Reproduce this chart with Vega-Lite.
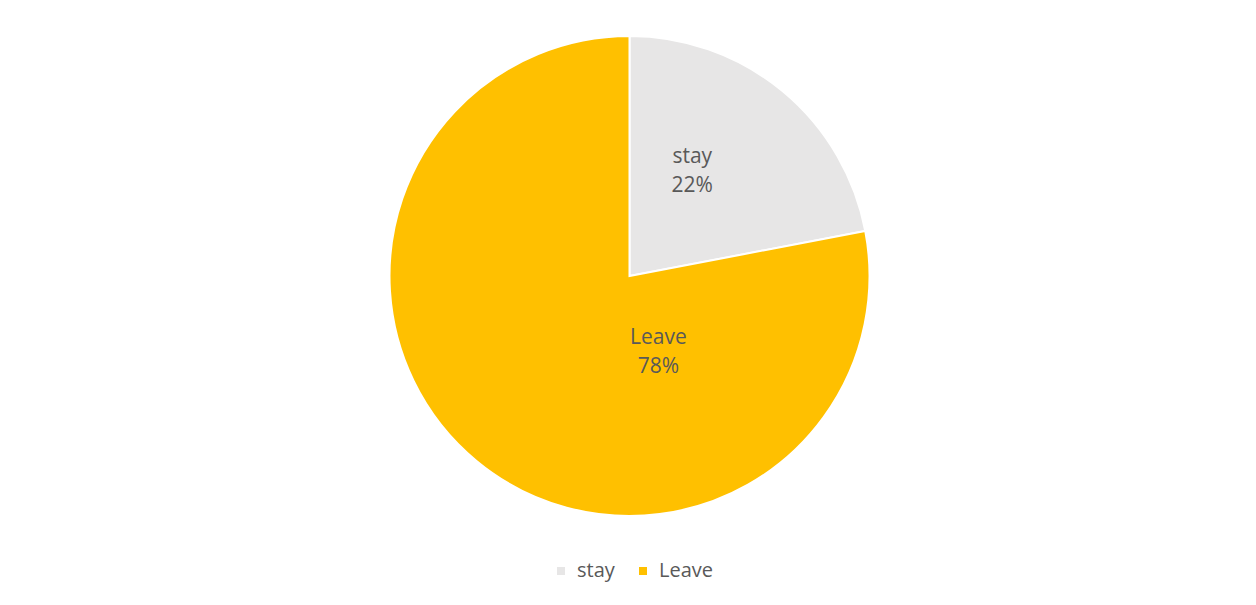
{
  "$schema": "https://vega.github.io/schema/vega-lite/v6.json",
  "width": 1259,
  "height": 552,
  "padding": {"top": 0, "left": 0, "right": 0, "bottom": 53},
  "autosize": {"type": "none"},
  "background": "white",
  "config": {"view": {"stroke": null}},
  "data": {"values": [
    {"status": "stay", "value": 22},
    {"status": "Leave", "value": 78}
  ]},
  "transform": [
    {"calculate": "[datum.status, datum.value + '%']", "as": "label"}
  ],
  "encoding": {
    "theta": {"field": "value", "type": "quantitative", "stack": true},
    "order": {"field": "value", "sort": "ascending"}
  },
  "layer": [
    {
      "mark": {"type": "arc", "outerRadius": 240, "stroke": "white", "strokeWidth": 2},
      "encoding": {
        "color": {
          "field": "status", "type": "nominal",
          "scale": {"domain": ["stay", "Leave"], "range": ["#E7E6E6", "#FFC000"]},
          "legend": {
            "title": null, "orient": "none", "legendX": 551, "legendY": 561, "direction": "horizontal",
            "symbolType": "square", "symbolSize": 64, "symbolStrokeWidth": 0, "symbolOffset": 0,
            "labelFontSize": 20, "labelFont": "Open Sans", "labelColor": "#595959",
            "labelOffset": 6, "columnPadding": 18, "padding": 0
          }
        }
      }
    },
    {
      "mark": {"type": "text", "radius": 122, "thetaOffset": -0.151, "dy": -14, "fontSize": 21, "font": "Open Sans", "color": "#595959", "lineHeight": 29, "baseline": "middle", "align": "center"},
      "encoding": {
        "text": {"condition": {"test": "datum.status == 'stay'", "field": "label"}, "value": ""}
      }
    },
    {
      "mark": {"type": "text", "radius": 81, "thetaOffset": -1.056, "dy": -14, "fontSize": 21, "font": "Open Sans", "color": "#595959", "lineHeight": 29, "baseline": "middle", "align": "center"},
      "encoding": {
        "text": {"condition": {"test": "datum.status == 'Leave'", "field": "label"}, "value": ""}
      }
    }
  ]
}
